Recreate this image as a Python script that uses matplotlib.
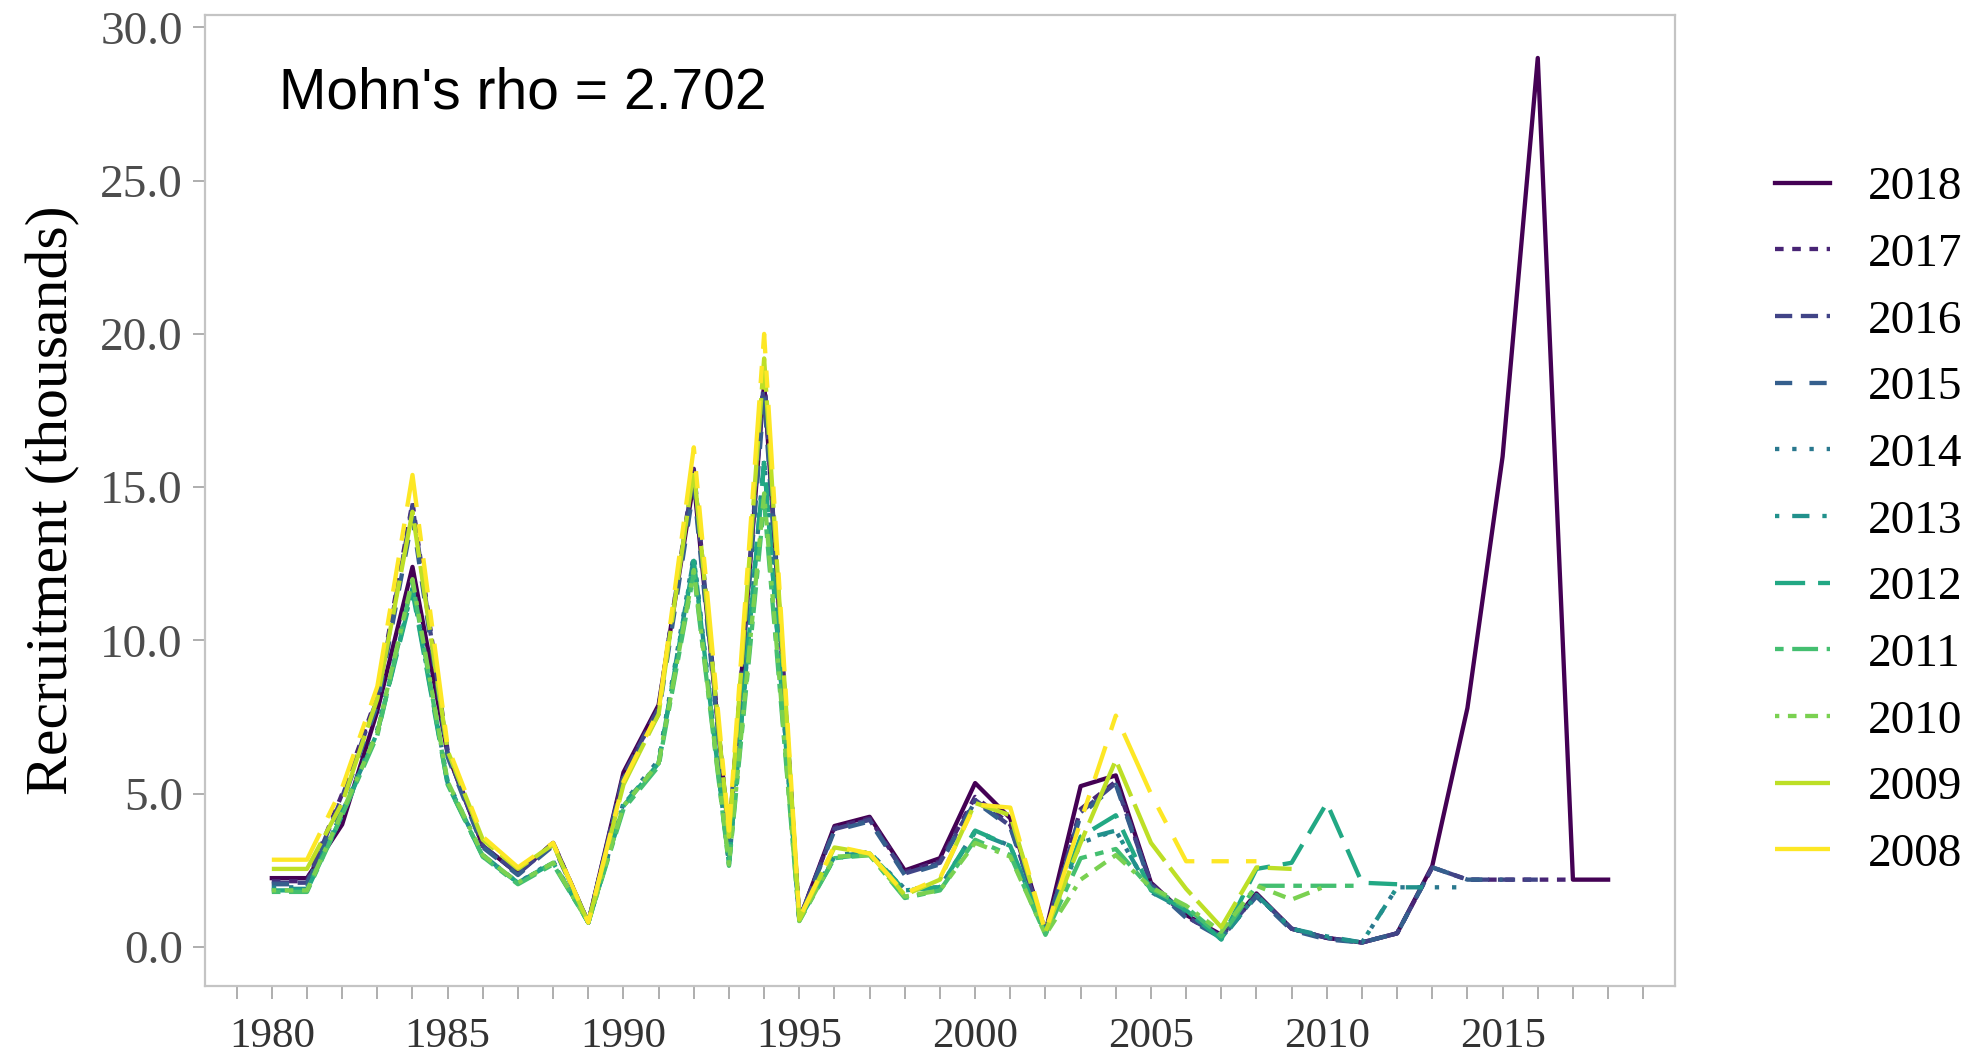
import numpy as np
import matplotlib
matplotlib.use('Agg')
import matplotlib.pyplot as plt

# retrospective peels of recruitment (thousands), 1980 .. terminal year
years = np.arange(1980, 2019)
peels = [2018, 2017, 2016, 2015, 2014, 2013, 2012, 2011, 2010, 2009, 2008]

r2018 = [2.25, 2.25, 4.0, 7.7, 12.4, 6.3, 3.3, 2.4, 3.4, 0.8, 5.7, 7.9, 15.2, 3.6, 18.4, 0.9,
         3.95, 4.25, 2.5, 2.9, 5.35, 4.2, 0.5, 5.25, 5.6, 2.1, 1.05, 0.4, 1.75, 0.6, 0.3, 0.15,
         0.45, 2.65, 7.8, 16.0, 29.0, 2.2, 2.2]
r2017 = [2.15, 2.15, 5.0, 8.2, 14.5, 6.4, 3.3, 2.4, 3.4, 0.8, 5.6, 7.8, 15.6, 3.5, 18.7, 0.9,
         3.9, 4.2, 2.45, 2.8, 4.9, 4.0, 0.5, 4.5, 5.4, 2.1, 1.0, 0.35, 1.7, 0.6, 0.3, 0.15,
         0.45, 2.6, 2.2, 2.2, 2.2, 2.2]
r2016 = [2.1, 2.1, 4.9, 8.1, 14.4, 6.3, 3.3, 2.4, 3.35, 0.8, 5.6, 7.8, 15.5, 3.5, 18.6, 0.9,
         3.85, 4.15, 2.4, 2.75, 4.8, 3.95, 0.5, 4.4, 5.35, 2.05, 1.0, 0.35, 1.7, 0.6, 0.3, 0.15,
         0.45, 2.6, 2.2, 2.2, 2.2]
r2015 = [2.05, 2.05, 4.7, 7.9, 14.0, 6.2, 3.25, 2.35, 3.3, 0.8, 5.5, 7.6, 15.0, 3.4, 18.0, 0.9,
         3.8, 4.1, 2.35, 2.7, 4.75, 3.9, 0.5, 4.3, 5.3, 2.0, 0.95, 0.3, 1.65, 0.55, 0.25, 0.15,
         0.45, 2.6, 2.2, 2.2]
r2014 = [1.95, 1.95, 4.4, 7.1, 11.8, 5.4, 3.0, 2.1, 2.8, 0.8, 4.7, 6.1, 12.8, 2.7, 15.9, 0.9,
         3.0, 3.1, 1.9, 1.95, 3.8, 3.3, 0.45, 3.4, 3.8, 1.8, 1.15, 0.3, 1.7, 0.6, 0.3, 0.15,
         1.95, 1.95, 1.95]
r2013 = [1.9, 1.9, 4.4, 7.0, 11.7, 5.35, 3.0, 2.1, 2.75, 0.8, 4.65, 6.0, 12.7, 2.7, 15.9, 0.9,
         2.95, 3.1, 1.85, 1.95, 3.75, 3.3, 0.45, 3.5, 3.8, 1.8, 1.2, 0.25, 1.7, 0.6, 0.35, 0.15,
         1.95, 1.95]
r2012 = [1.85, 1.85, 4.3, 7.0, 11.6, 5.3, 2.95, 2.1, 2.75, 0.8, 4.6, 6.0, 12.6, 2.7, 15.8, 0.9,
         2.9, 3.05, 1.85, 1.95, 3.8, 3.3, 0.45, 3.6, 4.3, 1.85, 1.2, 0.25, 2.55, 2.75, 4.7, 2.1,
         2.05]
r2011 = [1.8, 1.8, 4.3, 6.9, 11.9, 5.3, 2.95, 2.05, 2.7, 0.8, 4.5, 5.9, 12.2, 2.65, 14.5, 0.85,
         2.9, 3.0, 1.6, 1.85, 3.5, 3.0, 0.4, 2.9, 3.2, 1.9, 1.3, 0.35, 2.0, 2.0, 2.0, 2.0]
r2010 = [1.85, 1.85, 4.4, 7.0, 12.0, 5.4, 3.0, 2.1, 2.75, 0.8, 4.6, 6.0, 12.3, 2.7, 14.8, 0.85,
         2.95, 3.0, 1.65, 1.85, 3.4, 2.95, 0.4, 2.2, 3.0, 1.95, 1.35, 0.5, 2.0, 1.55, 2.0]
r2009 = [2.55, 2.55, 4.7, 8.1, 14.2, 6.4, 3.5, 2.55, 3.35, 0.8, 5.3, 7.6, 15.6, 3.6, 19.2, 0.9,
         3.25, 3.05, 1.7, 2.2, 4.7, 4.3, 0.5, 3.4, 6.1, 3.4, 1.9, 0.65, 2.6, 2.55]
r2008 = [2.85, 2.85, 5.2, 8.5, 15.4, 6.55, 3.6, 2.6, 3.4, 0.8, 5.4, 7.7, 16.3, 3.8, 20.0, 0.95,
         3.3, 3.05, 1.75, 2.25, 4.65, 4.55, 0.5, 4.1, 7.55, 5.0, 2.8, 2.8, 2.8]

series = [r2018, r2017, r2016, r2015, r2014, r2013, r2012, r2011, r2010, r2009, r2008]
rho_text = "Mohn's rho = 2.702"

# ggplot default linetype palette
styles = ['solid', (0, (2, 2)), (0, (4, 2)), (0, (4, 4)), (0, (1, 3)), (0, (1, 3, 4, 3)),
          (0, (7, 3)), (0, (2, 2, 6, 2)), (0, (1, 2, 2, 2, 3, 2, 4, 2)), (0, (15, 2, 8, 2)),
          (0, (15, 4, 4, 4, 8, 4, 4, 4))]
colors = plt.cm.viridis(np.linspace(0, 1, len(peels)))

plt.rcParams['font.family'] = ['Liberation Serif', 'DejaVu Serif']

fig = plt.figure(figsize=(19.77, 10.59), dpi=100)
ax = fig.add_axes([0.1037, 0.0689, 0.7435, 0.9169])

for peel, vals, col, ls in zip(peels, series, colors, styles):
    ax.plot(years[:len(vals)], vals, color=col, linestyle=ls, lw=3.1,
            solid_joinstyle='round', label=str(peel))

ax.set_xlim(1978.1, 2019.9)
ax.set_ylim(-1.27, 30.4)
ax.set_xticks(np.arange(1979, 2020))
ax.set_xticklabels([str(y) if (y % 5 == 0 and y <= 2015) else '' for y in range(1979, 2020)])
ax.set_yticks(np.arange(0, 31, 5))
ax.set_yticklabels(['%.1f' % v for v in np.arange(0, 31, 5)])

for s in ax.spines.values():
    s.set_color('#c4c4c4')
    s.set_linewidth(1.6)
ax.tick_params(axis='both', colors='#a8a8a8', length=9, width=1.3)
ax.tick_params(axis='y', labelcolor='#4d4d4d', labelsize=34, pad=7)
ax.tick_params(axis='x', labelcolor='#333333', labelsize=31, pad=14)

ax.set_ylabel('Recruitment (thousands)', fontsize=43, color='black', labelpad=14)

ax.text(1980.2, 27.35, rho_text, fontsize=41, va='baseline', ha='left',
        family=['Liberation Sans', 'DejaVu Sans'], color='black')

leg = fig.legend(loc='center left', bbox_to_anchor=(0.898, 0.508), frameon=False,
                 fontsize=34, handlelength=1.15, handletextpad=0.8, labelspacing=0.5,
                 borderpad=0, borderaxespad=0)

fig.savefig('out.png', dpi=100)
